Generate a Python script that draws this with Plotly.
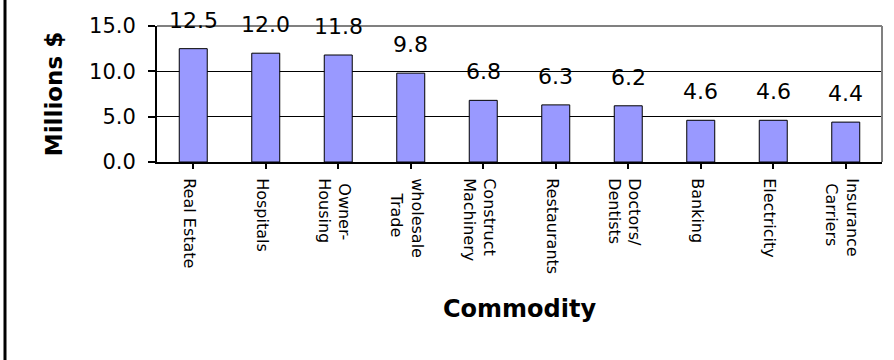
import plotly.graph_objects as go

# Output by commodity, millions of dollars
commodities = [
    "Real Estate", "Hospitals", "Owner-<br>Housing", "wholesale<br>Trade",
    "Construct<br>Machinery", "Restaurants", "Doctors/<br>Dentists",
    "Banking", "Electricity", "Insurance<br>Carriers",
]
values = [12.5, 12.0, 11.8, 9.8, 6.8, 6.3, 6.2, 4.6, 4.6, 4.4]
y_ticks = [0, 5, 10, 15]

FONT = "DejaVu Sans"
W, H = 894, 360
ML, MR, MT, MB = 157, 12, 26, 198
PW, PH = W - ML - MR, H - MT - MB


def center_lines(label):
    """Pad shorter lines with no-break spaces so stacked lines read centred."""
    lines = label.split("<br>")
    longest = max(len(s) for s in lines)
    out = []
    for s in lines:
        pad = round((longest - len(s)) * 0.85)
        out.append("\u00a0" * pad + s)
    return "<br>".join(out)


tick_text = [center_lines(c) for c in commodities]
cats = list(range(len(commodities)))

fig = go.Figure(
    go.Bar(
        x=cats,
        y=values,
        marker=dict(color="#9999FF", line=dict(color="#000000", width=1)),
        hoverinfo="skip",
    )
)

# value labels above each bar
for i, v in enumerate(values):
    fig.add_annotation(
        x=i, y=v, text=f"{v:.1f}", showarrow=False,
        xanchor="center", yanchor="bottom", yshift=14,
        font=dict(family=FONT, size=22, color="#000000"),
    )

# outer frame edge on the left and grey plot-area border
frame_x = (5 - ML) / PW
fig.add_shape(type="line", xref="paper", yref="paper",
              x0=frame_x, x1=frame_x, y0=-MB / PH, y1=1 + MT / PH,
              line=dict(color="#000000", width=3))
fig.add_shape(type="line", xref="paper", yref="paper",
              x0=0, x1=1, y0=1, y1=1, line=dict(color="#808080", width=2), layer="above")
fig.add_shape(type="line", xref="paper", yref="paper",
              x0=1, x1=1, y0=0, y1=1, line=dict(color="#808080", width=2), layer="above")

fig.update_layout(
    width=W, height=H,
    margin=dict(l=ML, r=MR, t=MT, b=MB, pad=0),
    paper_bgcolor="#FFFFFF", plot_bgcolor="#FFFFFF",
    showlegend=False,
    bargap=0.614,
    font=dict(family=FONT, color="#000000"),
    xaxis=dict(
        tickmode="array", tickvals=cats, ticktext=tick_text,
        range=[-0.5, len(cats) - 0.5],
        tickangle=90, tickson="boundaries",
        ticks="outside", ticklen=5, tickwidth=2, tickcolor="#000000",
        tickfont=dict(family=FONT, size=16, color="#000000"),
        ticklabelshift=-4, ticklabelstandoff=6,
        showline=True, linecolor="#000000", linewidth=2,
        showgrid=False, zeroline=False,
        title=dict(text="Commodity", standoff=27,
                   font=dict(family=FONT, size=24, weight="bold", color="#000000")),
    ),
    yaxis=dict(
        range=[0, 15], tickmode="array", tickvals=y_ticks, tickformat=".1f",
        ticks="outside", ticklen=7, tickwidth=2, tickcolor="#000000",
        tickfont=dict(family=FONT, size=21, color="#000000"),
        ticklabelstandoff=8,
        showline=True, linecolor="#000000", linewidth=2,
        showgrid=True, gridcolor="#000000", gridwidth=1,
        zeroline=False,
        title=dict(text="Millions $", standoff=20,
                   font=dict(family=FONT, size=23, weight="bold", color="#000000")),
    ),
)

fig.write_html("out.html")
